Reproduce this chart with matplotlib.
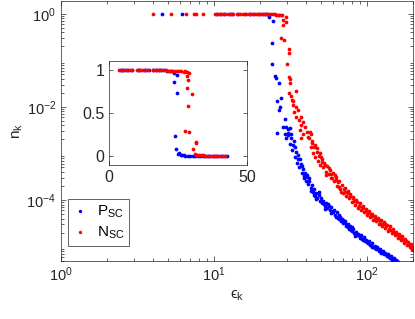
import numpy as np
import matplotlib
matplotlib.use("Agg")
import matplotlib.pyplot as plt

plt.rcParams['font.family'] = ['Liberation Sans', 'DejaVu Sans']
plt.rcParams['mathtext.fontset'] = 'custom'
plt.rcParams['mathtext.rm'] = 'Liberation Sans'
plt.rcParams['mathtext.it'] = 'Liberation Sans'
plt.rcParams['mathtext.fallback'] = 'stixsans'

# ---- main panel data (eps_k, n_k) ----
p_flat_x = [4.57, 6.17, 10.4, 11.0, 11.6, 12.7, 13.2, 14.3, 16.0, 17.2, 18.4, 19.6, 20.7, 21.6, 22.3]
p_flat_y = [1.0, 1.0, 1.0, 1.0, 1.0, 1.0, 1.0, 1.0, 1.0, 1.0, 1.0, 1.0, 0.99, 0.99, 0.98]

p_knee_x = [23.0, 24.4, 23.8, 23.9, 25.0, 25.4, 26.5, 27.4, 25.7, 27.0, 26.7, 29.1, 28.1, 29.8,
            30.6, 25.9, 29.1, 30.6, 29.5]
p_knee_y = [0.875, 0.72, 0.24, 0.083, 0.046, 0.041, 0.032, 0.0154, 0.0135, 0.0101, 0.0086, 0.0054,
            0.0037, 0.0037, 0.0033, 0.0027, 0.0026, 0.0025, 0.0022]

p_tail_x = [30.5, 31.2, 31.8, 32.5, 33.1, 33.8, 34.3, 35.0, 35.6, 36.2, 36.9, 37.5, 38.1, 38.8, 39.4,
            40.0, 40.7, 41.3, 42.0, 42.8, 43.5, 44.3, 45.0, 45.8, 46.6, 47.5, 48.3, 49.2, 50.1, 51.0,
            52.0, 53.0, 54.1, 55.2, 56.3, 57.5, 58.6, 59.8, 61.0, 62.2, 63.5, 64.8, 66.1, 67.5, 68.9,
            70.3, 71.7, 73.2, 74.7, 76.2, 77.8, 79.4, 81.0, 82.7, 84.4, 86.1, 87.9, 89.7, 91.5, 93.4,
            95.3, 97.3, 99.3, 101.3, 103.4, 105.5, 107.7, 109.9, 112.2, 114.5, 116.9, 119.3, 121.8,
            124.3, 126.9, 129.5, 132.2, 135.0, 137.8, 140.7, 143.6, 146.6, 149.7, 152.8, 156.0, 159.2,
            32.0, 33.5, 36.5, 39.0, 41.8, 44.8, 48.8, 52.5, 55.8, 60.4, 65.4, 69.6, 75.5, 80.2, 85.2,
            90.6, 96.3, 102.3, 108.8, 115.7, 123.0, 130.8, 139.2, 148.1,
            31.5, 34.0, 35.3, 37.8, 40.4, 43.0, 46.2, 50.5, 53.6, 58.1, 62.8, 66.8, 72.5, 78.6, 83.5,
            88.8, 94.3, 100.2, 106.5, 113.3, 120.5, 128.2, 136.4, 145.0, 154.3, 157.5]
p_tail_y = [2.8e-3, 1.6e-3, 2.1e-3, 1.2e-3, 1.5e-3, 8.5e-4, 1.1e-3, 6.3e-4, 7.8e-4, 5.2e-4, 6.0e-4,
            3.9e-4, 4.6e-4, 3.3e-4, 3.9e-4, 2.5e-4, 3.1e-4, 2.2e-4, 2.5e-4, 1.8e-4, 2.1e-4, 1.5e-4,
            1.7e-4, 1.25e-4, 1.45e-4, 1.1e-4, 1.3e-4, 9.5e-5, 1.1e-4, 8.7e-5, 9.6e-5, 7.6e-5, 8.8e-5,
            6.9e-5, 7.6e-5, 6.0e-5, 7.0e-5, 5.4e-5, 6.0e-5, 4.8e-5, 5.4e-5, 4.2e-5, 4.7e-5, 3.6e-5,
            4.0e-5, 3.2e-5, 3.5e-5, 2.8e-5, 3.1e-5, 2.4e-5, 2.7e-5, 2.2e-5, 2.4e-5, 1.95e-5, 2.1e-5,
            1.75e-5, 1.9e-5, 1.6e-5, 1.75e-5, 1.45e-5, 1.6e-5, 1.3e-5, 1.4e-5, 1.17e-5, 1.3e-5,
            1.07e-5, 1.17e-5, 9.8e-6, 1.05e-5, 8.9e-6, 9.8e-6, 8.1e-6, 8.7e-6, 7.4e-6, 8.1e-6, 6.9e-6,
            7.4e-6, 6.3e-6, 6.8e-6, 5.8e-6, 6.2e-6, 5.2e-6, 5.6e-6, 4.9e-6, 5.1e-6, 4.6e-6,
            2.6e-3, 1.9e-3, 7.5e-4, 2.9e-4, 2.9e-4, 1.3e-4, 1.5e-4, 8.1e-5, 8.3e-5, 5.9e-5, 3.9e-5,
            3.8e-5, 2.6e-5, 2.6e-5, 1.8e-5, 1.5e-5, 1.5e-5, 1.2e-5, 1.0e-5, 9.2e-6, 8.0e-6, 7.0e-6,
            6.0e-6, 5.4e-6,
            3.5e-3, 1.4e-3, 9.5e-4, 5.3e-4, 3.5e-4, 1.6e-4, 1.05e-4, 9.0e-5, 6.5e-5, 5.2e-5, 4.4e-5,
            4.3e-5, 3.0e-5, 2.3e-5, 1.7e-5, 1.75e-5, 1.35e-5, 1.25e-5, 1.1e-5, 9.4e-6, 8.4e-6, 7.3e-6,
            6.5e-6, 5.7e-6, 5.0e-6, 4.95e-6]

n_flat_x = [3.99, 5.24, 6.56, 7.4, 7.6, 8.47, 10.2, 10.5, 10.9, 11.3, 11.8, 12.3, 12.8, 13.4, 14.1,
            14.8, 15.6, 16.3, 16.9, 17.5, 18.1, 18.8, 19.4, 20.1, 20.8, 21.5, 22.2, 22.9, 23.6, 24.3,
            25.0, 25.6, 26.2, 26.8, 27.3, 27.8, 28.4, 29.5]
n_flat_y = [1.0, 1.0, 1.0, 1.0, 1.0, 1.0, 1.0, 1.0, 1.0, 1.0, 1.0, 1.0, 1.0, 1.0, 1.0,
            1.0, 1.0, 1.0, 1.0, 1.0, 1.0, 1.0, 1.0, 1.0, 0.99, 0.99, 0.99, 0.99, 0.98, 0.98,
            0.98, 0.97, 0.97, 0.97, 0.96, 0.95, 0.74, 0.88]

n_knee_x = [28.3, 29.8, 27.3, 28.6, 31.0, 31.0, 30.1, 31.0, 31.4, 31.4, 31.0, 34.3, 31.7, 32.3, 33.0,
            32.7, 34.6, 33.4, 35.5, 34.6, 37.3, 36.0, 38.2, 37.3, 39.2, 36.5, 40.3, 38.2, 41.3, 37.3]
n_knee_y = [0.58, 0.68, 0.30, 0.276, 0.174, 0.147, 0.083, 0.045, 0.04, 0.033, 0.0197, 0.022, 0.0173,
            0.0142, 0.0135, 0.011, 0.0101, 0.0079, 0.0086, 0.0062, 0.0062, 0.0053, 0.0048, 0.0041,
            0.0038, 0.0032, 0.0029, 0.0026, 0.0023, 0.0021]

n_tail_x = [42.0, 42.8, 43.6, 44.4, 45.2, 46.0, 46.9, 47.8, 48.7, 49.7, 50.7, 51.7, 52.8, 53.9, 55.0,
            56.2, 57.4, 58.6, 59.9, 61.2, 62.5, 63.9, 65.3, 66.8, 68.3, 69.8, 71.4, 73.0, 74.7, 76.4,
            78.1, 79.9, 81.7, 83.6, 85.5, 87.5, 89.5, 91.6, 93.7, 95.9, 98.1, 100.4, 102.7, 105.1,
            107.5, 110.0, 112.6, 115.2, 117.9, 120.6, 123.4, 126.3, 129.2, 132.2, 135.3, 138.4, 141.6,
            144.9, 148.3, 151.7, 155.2, 158.8, 162.5, 166.3, 170.1, 174.1, 178.1, 182.2, 186.4, 190.7,
            195.1, 199.6,
            43.0, 45.8, 49.0, 51.2, 54.3, 57.9, 61.8, 64.6, 67.5, 72.2, 77.2, 82.6, 88.4, 94.6, 101.3,
            108.4, 116.3, 124.8, 133.8, 143.2, 153.4, 164.0, 175.7, 188.0, 197.5,
            42.4, 44.0, 47.3, 50.2, 53.2, 56.8, 59.2, 63.0, 66.2, 70.5, 75.8, 80.8, 86.5, 92.5, 99.0,
            105.8, 113.5, 121.8, 130.5, 139.6, 149.6, 159.8, 169.0, 179.5, 191.5, 198.5]
n_tail_y = [2.2e-3, 1.4e-3, 1.7e-3, 1.05e-3, 1.35e-3, 8.6e-4, 1.1e-3, 7.0e-4, 8.8e-4, 5.6e-4, 7.6e-4,
            5.0e-4, 6.2e-4, 4.0e-4, 5.3e-4, 3.6e-4, 4.4e-4, 2.9e-4, 3.8e-4, 2.6e-4, 3.1e-4, 2.0e-4,
            2.6e-4, 1.7e-4, 2.1e-4, 1.45e-4, 1.8e-4, 1.25e-4, 1.55e-4, 1.1e-4, 1.35e-4, 9.0e-5,
            1.15e-4, 7.8e-5, 9.8e-5, 6.9e-5, 8.5e-5, 6.2e-5, 7.6e-5, 5.4e-5, 6.5e-5, 4.8e-5, 5.8e-5,
            4.3e-5, 5.1e-5, 3.8e-5, 4.6e-5, 3.5e-5, 4.1e-5, 3.1e-5, 3.7e-5, 2.8e-5, 3.3e-5, 2.5e-5,
            2.9e-5, 2.2e-5, 2.7e-5, 2.0e-5, 2.4e-5, 1.8e-5, 2.1e-5, 1.55e-5, 1.85e-5, 1.35e-5,
            1.65e-5, 1.2e-5, 1.45e-5, 1.08e-5, 1.28e-5, 9.6e-6, 1.12e-5, 8.6e-6,
            2.6e-3, 1.5e-3, 1.0e-3, 6.5e-4, 3.4e-4, 3.6e-4, 3.5e-4, 2.4e-4, 1.5e-4, 1.5e-4, 1.2e-4,
            9.5e-5, 7.6e-5, 6.8e-5, 5.3e-5, 4.6e-5, 3.8e-5, 3.1e-5, 2.7e-5, 2.3e-5, 1.95e-5, 1.6e-5,
            1.33e-5, 1.15e-5, 1.0e-5,
            2.9e-3, 1.9e-3, 1.3e-3, 8.5e-4, 5.6e-4, 4.9e-4, 3.0e-4, 2.7e-4, 1.9e-4, 1.7e-4, 1.4e-4,
            1.1e-4, 8.9e-5, 7.0e-5, 5.9e-5, 5.0e-5, 4.1e-5, 3.5e-5, 3.0e-5, 2.4e-5, 2.1e-5, 1.75e-5,
            1.5e-5, 1.3e-5, 1.05e-5, 9.0e-6]

# ---- inset data (linear axes) ----
p_in_x = [4.0, 4.6, 5.2, 6.2, 7.0, 8.5, 10.4, 11.0, 12.7, 13.5, 14.4, 16.0, 17.0, 18.0, 19.0, 20.0,
          21.0, 22.0, 22.8, 23.5, 24.5, 23.5, 24.6, 24.0, 24.1, 25.5, 25.0, 26.0, 26.5, 27.0, 27.6,
          28.5, 29.4, 30.3, 31.2, 32.1, 33.0, 33.9, 34.8, 35.7, 36.6, 37.5, 38.4, 39.3, 40.2, 41.1,
          42.0, 42.9]
p_in_y = [1.0, 1.0, 1.0, 1.0, 1.0, 1.0, 1.0, 1.0, 1.0, 1.0, 1.0, 1.0, 1.0, 1.0, 1.0, 1.0,
          0.99, 0.99, 0.98, 0.96, 0.94, 0.86, 0.73, 0.24, 0.08, 0.04, 0.03, 0.02, 0.015, 0.01, 0.008,
          0.006, 0.005, 0.004, 0.004, 0.003, 0.003, 0.002, 0.002, 0.002, 0.002, 0.001, 0.001, 0.001,
          0.001, 0.001, 0.001, 0.001]

n_in_x = [3.7, 4.2, 5.3, 6.5, 7.5, 8.5, 10.3, 11.2, 12.1, 13.0, 14.0, 15.8, 16.6, 17.4, 18.2, 19.0,
          19.8, 20.6, 21.4, 22.2, 23.0, 23.8, 24.6, 25.4, 26.2, 27.0, 27.7, 28.3, 28.8, 28.3, 28.5,
          28.1, 30.1, 28.7, 27.7, 29.0, 31.5, 31.5, 30.3, 31.3, 31.8, 32.5, 33.2, 34.0, 34.8, 35.6,
          36.4, 37.2, 38.0, 38.8, 39.6, 40.4, 41.2, 42.0]
n_in_y = [1.0, 1.0, 1.0, 1.0, 1.0, 1.0, 1.0, 1.0, 1.0, 1.0, 1.0, 1.0, 1.0, 1.0, 1.0, 1.0,
          1.0, 1.0, 0.99, 0.99, 0.99, 0.99, 0.98, 0.98, 0.98, 0.97, 0.99, 0.97, 0.96, 0.93, 0.875,
          0.79, 0.72, 0.58, 0.29, 0.28, 0.17, 0.15, 0.08, 0.03, 0.02, 0.015, 0.012, 0.01, 0.009, 0.008,
          0.007, 0.006, 0.006, 0.005, 0.005, 0.004, 0.004, 0.004]

blue = (0, 0, 1)
red = (1, 0, 0)
axcol = (0.15, 0.15, 0.15)
ms = 2.7

fig = plt.figure(figsize=(4.15, 3.19), dpi=100)
ax = fig.add_axes([0.147, 0.182, 0.848, 0.815])

px = p_flat_x + p_knee_x + p_tail_x
py = p_flat_y + p_knee_y + p_tail_y
nx = n_flat_x + n_knee_x + n_tail_x
ny = n_flat_y + n_knee_y + n_tail_y

ax.plot(px, py, 'o', color=blue, ms=ms, mec='none', label='P$_{SC}$')
ax.plot(nx, ny, 'o', color=red, ms=ms, mec='none', label='N$_{SC}$')

ax.set_xscale('log')
ax.set_yscale('log')
ax.set_xlim(1, 200)
ax.set_ylim(4.9e-6, 1.9)
ax.set_xticks([1, 10, 100])
ax.set_yticks([1e-4, 1e-2, 1])
ax.set_xlabel('$\u03f5_k$', fontsize=11, color=axcol, labelpad=3)
ax.set_ylabel('n$_k$', fontsize=11, color=axcol, labelpad=1)

ax.tick_params(which='both', direction='in', top=True, right=True, colors=axcol,
               labelsize=10.5, width=0.5)
ax.tick_params(which='major', length=3.5)
ax.tick_params(which='minor', length=2)
for s in ax.spines.values():
    s.set_color(axcol)
    s.set_linewidth(0.5)

leg = ax.legend(loc='lower left', bbox_to_anchor=(0.02, 0.058), borderaxespad=0,
                fontsize=11, fancybox=False, framealpha=1, edgecolor=axcol,
                handlelength=1.0, handletextpad=0.6, markerscale=0.9,
                borderpad=0.3, labelspacing=0.3)
leg.get_frame().set_linewidth(0.5)

# inset
ins = fig.add_axes([0.2627, 0.4828, 0.3325, 0.326])
ins.plot(p_in_x, p_in_y, 'o', color=blue, ms=ms, mec='none')
ins.plot(n_in_x, n_in_y, 'o', color=red, ms=ms, mec='none')
ins.set_xlim(0, 50)
ins.set_ylim(-0.1, 1.1)
ins.set_xticks([0, 50])
ins.set_yticks([0, 0.5, 1])
ins.set_xticklabels(['0', '50'])
ins.set_yticklabels(['0', '0.5', '1'])
ins.tick_params(direction='in', top=True, right=True, colors=axcol, labelsize=11.5,
                width=0.5, length=3)
for s in ins.spines.values():
    s.set_color(axcol)
    s.set_linewidth(0.5)

fig.savefig('out.png', dpi=100)
